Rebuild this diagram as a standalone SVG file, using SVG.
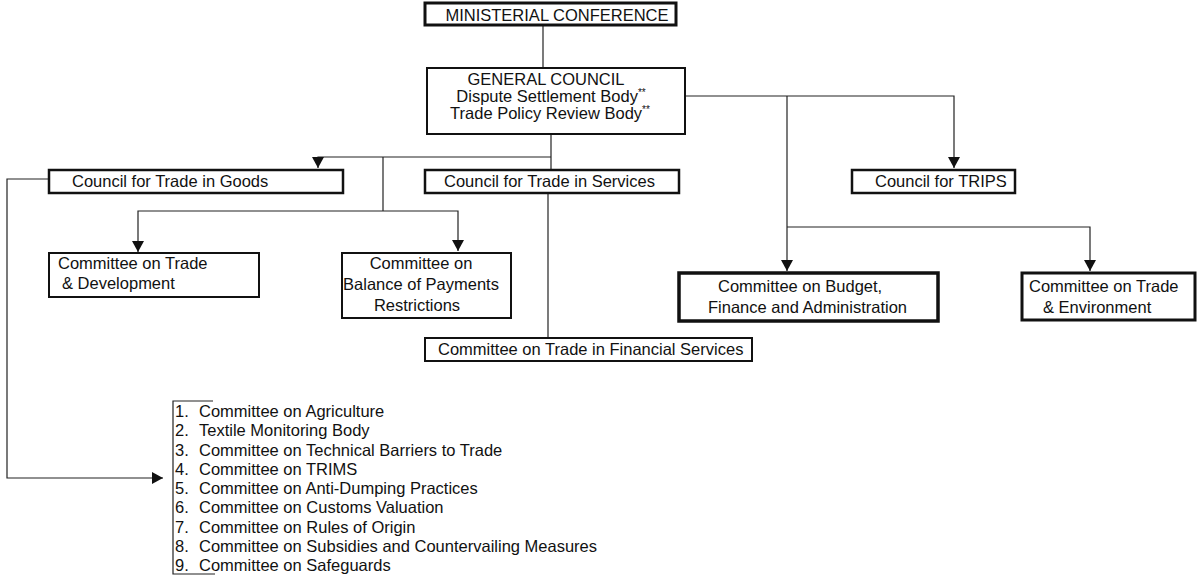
<svg xmlns="http://www.w3.org/2000/svg" width="1203" height="578" viewBox="0 0 1203 578">
<defs>
<style>
text{font-family:"Liberation Sans",Arial,sans-serif;font-size:16.5px;fill:#111}
.box{fill:#fff;stroke:#111}
.c{fill:none;stroke:#222;stroke-width:1.2}
.sup{font-size:10px}
</style>
<marker id="ah" markerUnits="userSpaceOnUse" markerWidth="12" markerHeight="12" refX="11" refY="6" orient="auto">
<path d="M0,0 L11,6 L0,12 z" fill="#111"/>
</marker>
</defs>
<rect width="1203" height="578" fill="#fff"/>
<g id="connectors">
<path class="c" d="M543,25 V68"/>
<path class="c" d="M551,134 V170"/>
<path class="c" d="M551,157 H318 V168" marker-end="url(#ah)"/>
<path class="c" d="M383,157 V211"/>
<path class="c" d="M383,211 H138 V252" marker-end="url(#ah)"/>
<path class="c" d="M383,211 H458 V251" marker-end="url(#ah)"/>
<path class="c" d="M685,96 H954 V168" marker-end="url(#ah)"/>
<path class="c" d="M787,96 V271" marker-end="url(#ah)"/>
<path class="c" d="M787,227 H1090 V271" marker-end="url(#ah)"/>
<path class="c" d="M548,193 V338"/>
<path class="c" d="M49,179 H7 V478 H163" marker-end="url(#ah)"/>
</g>
<g id="ministerial-conference">
<rect class="box" x="425" y="3" width="251" height="22" stroke-width="3"/>
<text x="557" y="20.5" text-anchor="middle">MINISTERIAL CONFERENCE</text>
</g>
<g id="general-council">
<rect class="box" x="427" y="68" width="258" height="66" stroke-width="2"/>
<text x="546" y="85" text-anchor="middle">GENERAL COUNCIL</text>
<text x="551" y="102" text-anchor="middle">Dispute Settlement Body<tspan class="sup" dy="-6">**</tspan></text>
<text x="550" y="119" text-anchor="middle">Trade Policy Review Body<tspan class="sup" dy="-6">**</tspan></text>
</g>
<g id="council-goods">
<rect class="box" x="49" y="170" width="294" height="23" stroke-width="2.5"/>
<text x="72" y="187">Council for Trade in Goods</text>
</g>
<g id="council-services">
<rect class="box" x="425" y="170" width="254" height="23" stroke-width="2.5"/>
<text x="444" y="187">Council for Trade in Services</text>
</g>
<g id="council-trips">
<rect class="box" x="852" y="170" width="163" height="23" stroke-width="2.5"/>
<text x="875" y="187">Council for TRIPS</text>
</g>
<g id="committee-trade-development">
<rect class="box" x="49" y="253" width="210" height="44" stroke-width="2"/>
<text x="58" y="269">Committee on Trade</text>
<text x="62" y="289">&amp; Development</text>
</g>
<g id="committee-bop">
<rect class="box" x="342" y="253" width="169" height="65" stroke-width="2"/>
<text x="421" y="269" text-anchor="middle">Committee on</text>
<text x="421" y="290" text-anchor="middle">Balance of Payments</text>
<text x="417" y="311" text-anchor="middle">Restrictions</text>
</g>
<g id="committee-budget">
<rect class="box" x="679" y="273" width="259" height="48" stroke-width="3.5"/>
<text x="718" y="292">Committee on Budget,</text>
<text x="708" y="313">Finance and Administration</text>
</g>
<g id="committee-environment">
<rect class="box" x="1022" y="273" width="173" height="47" stroke-width="3"/>
<text x="1029" y="292">Committee on Trade</text>
<text x="1043" y="313">&amp; Environment</text>
</g>
<g id="committee-financial-services">
<rect class="box" x="425" y="338" width="327" height="23" stroke-width="2"/>
<text x="438" y="355">Committee on Trade in Financial Services</text>
</g>
<g id="goods-committees-list">
<path d="M213,401 H173 V574 H215" fill="none" stroke="#222" stroke-width="1.2"/>
<text y="417"><tspan x="175">1.</tspan><tspan x="199">Committee on Agriculture</tspan></text>
<text y="436.25"><tspan x="175">2.</tspan><tspan x="199">Textile Monitoring Body</tspan></text>
<text y="455.5"><tspan x="175">3.</tspan><tspan x="199">Committee on Technical Barriers to Trade</tspan></text>
<text y="474.75"><tspan x="175">4.</tspan><tspan x="199">Committee on TRIMS</tspan></text>
<text y="494"><tspan x="175">5.</tspan><tspan x="199">Committee on Anti-Dumping Practices</tspan></text>
<text y="513.25"><tspan x="175">6.</tspan><tspan x="199">Committee on Customs Valuation</tspan></text>
<text y="532.5"><tspan x="175">7.</tspan><tspan x="199">Committee on Rules of Origin</tspan></text>
<text y="551.75"><tspan x="175">8.</tspan><tspan x="199">Committee on Subsidies and Countervailing Measures</tspan></text>
<text y="571"><tspan x="175">9.</tspan><tspan x="199">Committee on Safeguards</tspan></text>
</g>
</svg>
